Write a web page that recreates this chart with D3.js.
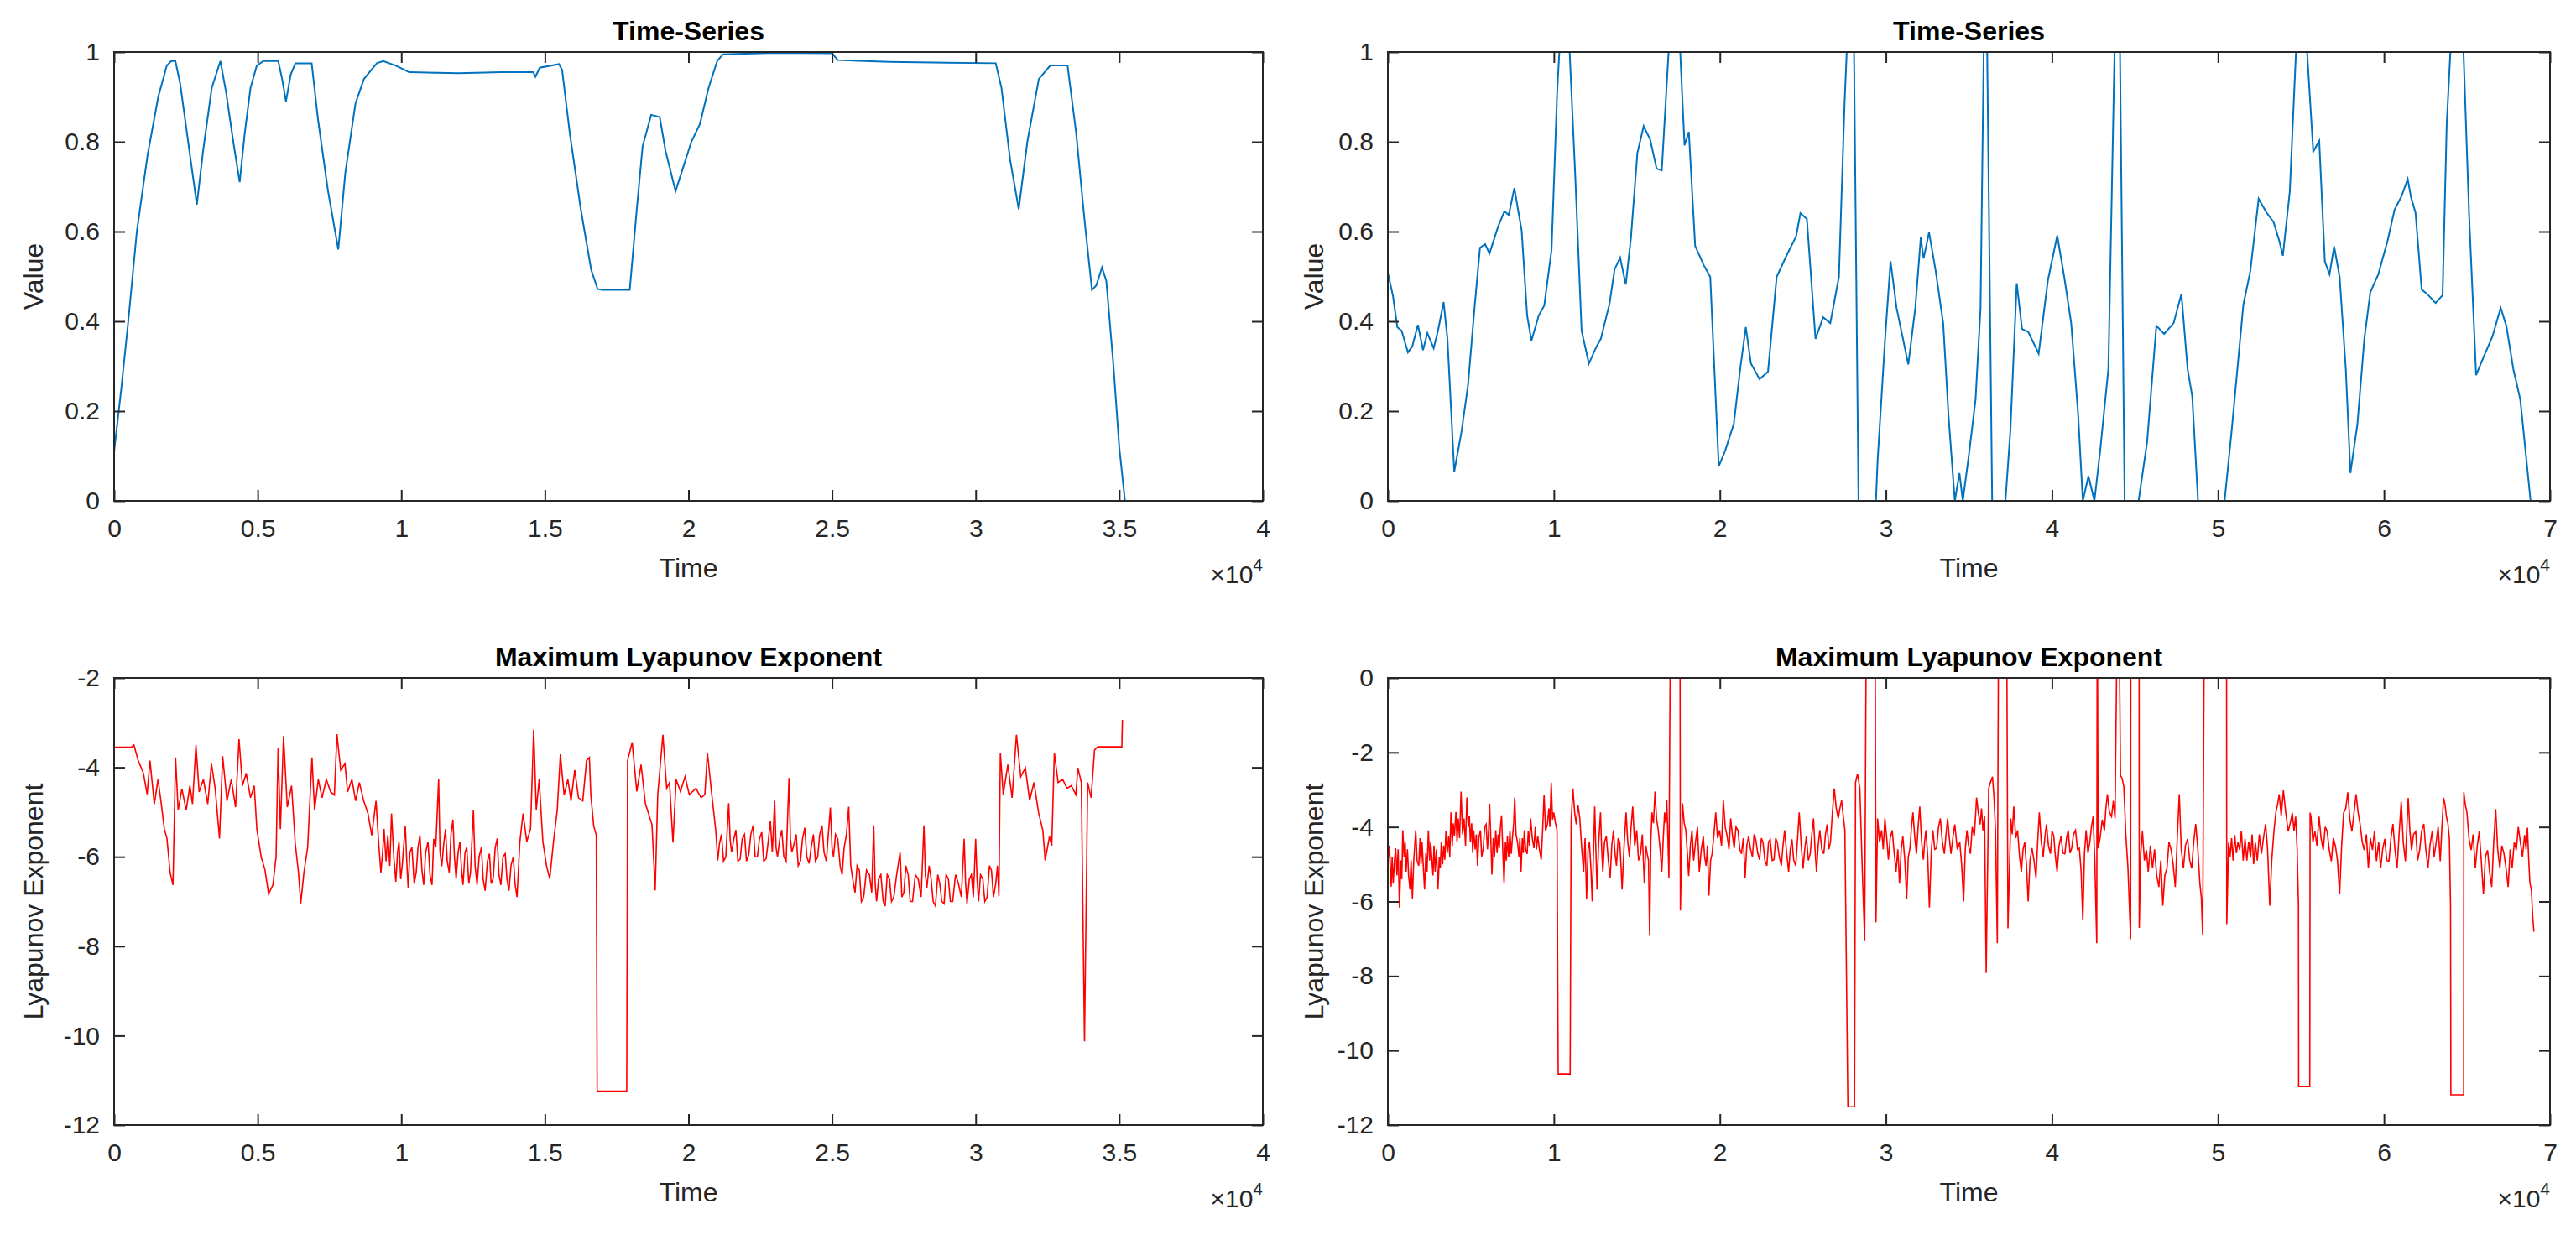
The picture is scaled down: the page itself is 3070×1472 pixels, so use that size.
<!DOCTYPE html>
<html lang="en">
<head>
    <meta charset="UTF-8">
    <title>Time-Series and Maximum Lyapunov Exponent</title>
    <style>
        body { margin: 0; background: #fff; }
        svg text { font-family: "Liberation Sans", Arial, Helvetica, sans-serif; fill: #262626; }
    </style>
</head>
<body>
    <div id="chart"></div>
    <script src="https://d3js.org/d3.v7.min.js"></script>
    <script>
        // ---- data: [time, value] ----
        const seriesA = [[0,0.11],[250,0.25],[493,0.40],[791,0.60],[1164,0.77],[1537,0.90],[1836,0.97],[1990,0.98],[2134,0.98],[2300,0.93],[2600,0.79],[2881,0.66],[3100,0.78],[3400,0.92],[3701,0.98],[3900,0.91],[4150,0.80],[4373,0.71],[4550,0.82],[4750,0.92],[4970,0.97],[5200,0.98],[5716,0.98],[5850,0.94],[5985,0.89],[6150,0.95],[6313,0.975],[6880,0.975],[7100,0.85],[7450,0.69],[7806,0.56],[8050,0.73],[8403,0.885],[8701,0.94],[9149,0.975],[9373,0.98],[9800,0.97],[10119,0.96],[10269,0.955],[12000,0.953],[13500,0.955],[14597,0.955],[14672,0.945],[14821,0.965],[15493,0.973],[15600,0.96],[15866,0.82],[16250,0.65],[16612,0.515],[16836,0.472],[17000,0.47],[17955,0.47],[18200,0.65],[18403,0.79],[18701,0.86],[19000,0.855],[19200,0.78],[19550,0.69],[19800,0.74],[20100,0.80],[20400,0.84],[20700,0.92],[21000,0.98],[21200,0.995],[23000,0.998],[25000,0.997],[25200,0.982],[27000,0.978],[29000,0.976],[30700,0.975],[30900,0.92],[31200,0.76],[31500,0.65],[31800,0.80],[32200,0.94],[32600,0.97],[33200,0.97],[33500,0.82],[33800,0.62],[34050,0.47],[34200,0.48],[34400,0.52],[34550,0.49],[34800,0.30],[35000,0.12],[35200,0.0]];

        const seriesB = [[0,0.508],[310,0.456],[570,0.387],[830,0.379],[1210,0.331],[1470,0.344],[1810,0.392],[2120,0.336],[2380,0.374],[2760,0.34],[3020,0.379],[3360,0.443],[3590,0.361],[4000,0.065],[4440,0.155],[4830,0.258],[5220,0.43],[5550,0.564],[5860,0.572],[6120,0.551],[6640,0.611],[7020,0.645],[7280,0.637],[7620,0.697],[8060,0.602],[8390,0.413],[8650,0.357],[9090,0.413],[9420,0.435],[9860,0.559],[10200,0.912],[10330,1.0],[10950,1.0],[11280,0.731],[11670,0.379],[12110,0.306],[12570,0.344],[12830,0.361],[13350,0.439],[13660,0.516],[13990,0.542],[14330,0.482],[14640,0.585],[15030,0.775],[15410,0.835],[15800,0.805],[16190,0.74],[16500,0.736],[16910,1.0],[17610,1.0],[17870,0.792],[18130,0.822],[18510,0.568],[19030,0.525],[19420,0.499],[19930,0.077],[20320,0.112],[20840,0.172],[21220,0.293],[21560,0.387],[21870,0.306],[22390,0.271],[22900,0.288],[23420,0.499],[24070,0.551],[24590,0.589],[24850,0.641],[25240,0.628],[25760,0.361],[26220,0.409],[26650,0.396],[27170,0.499],[27510,0.886],[27640,1.0],[28080,1.0],[28350,0.0],[29400,0.0],[29500,0.09],[29950,0.36],[30280,0.534],[30640,0.43],[31350,0.304],[31770,0.43],[32100,0.587],[32270,0.54],[32600,0.598],[33000,0.512],[33450,0.396],[33780,0.185],[34150,0.0],[34430,0.062],[34630,0.0],[35000,0.103],[35400,0.226],[35700,0.43],[35890,1.0],[36100,1.0],[36400,0.0],[37200,0.0],[37500,0.158],[37880,0.485],[38200,0.383],[38580,0.376],[39200,0.328],[39760,0.492],[40320,0.591],[40740,0.499],[41160,0.396],[41580,0.192],[41860,0.0],[42200,0.055],[42560,0.0],[42900,0.11],[43400,0.294],[43770,1.0],[44100,1.0],[44380,0.0],[45220,0.0],[45730,0.13],[46290,0.39],[46760,0.372],[47330,0.396],[47800,0.461],[48170,0.294],[48450,0.233],[48800,0.0],[50400,0.0],[50830,0.158],[51530,0.437],[51950,0.512],[52450,0.673],[52930,0.642],[53350,0.621],[53690,0.58],[53910,0.546],[54330,0.69],[54700,1.0],[55370,1.0],[55740,0.778],[56100,0.802],[56440,0.533],[56720,0.505],[57000,0.567],[57330,0.499],[57700,0.294],[57980,0.062],[58400,0.171],[58820,0.362],[59180,0.465],[59660,0.505],[60220,0.58],[60640,0.649],[61060,0.679],[61430,0.717],[61630,0.676],[61900,0.642],[62270,0.471],[62600,0.461],[63110,0.441],[63530,0.458],[63780,0.84],[64000,1.0],[64790,1.0],[65130,0.635],[65550,0.28],[65970,0.318],[66530,0.366],[67030,0.43],[67370,0.39],[67790,0.294],[68210,0.226],[68830,0.0]];

        const lyapA = [[0,-2.95],[5,-3.55],[600,-3.55],[690,-3.5],[840,-3.85],[1020,-4.13],[1150,-4.6],[1250,-3.85],[1400,-4.82],[1530,-4.27],[1630,-4.75],[1750,-5.38],[1840,-5.59],[1950,-6.35],[2050,-6.63],[2140,-3.78],[2230,-4.96],[2360,-4.48],[2510,-4.96],[2640,-4.41],[2730,-4.82],[2850,-3.5],[2960,-4.55],[3110,-4.27],[3260,-4.82],[3390,-3.92],[3520,-4.48],[3670,-5.59],[3780,-3.75],[3930,-4.75],[4080,-4.27],[4230,-4.89],[4350,-3.37],[4470,-4.41],[4600,-4.13],[4750,-4.68],[4880,-4.41],[4970,-5.38],[5120,-6.0],[5250,-6.28],[5380,-6.83],[5530,-6.63],[5640,-6.0],[5710,-3.57],[5790,-5.38],[5900,-3.3],[6030,-4.89],[6180,-4.41],[6310,-5.72],[6420,-6.35],[6500,-7.04],[6610,-6.35],[6740,-5.79],[6890,-3.78],[6980,-4.96],[7110,-4.27],[7240,-4.68],[7390,-4.27],[7540,-4.55],[7670,-4.62],[7760,-3.26],[7890,-4.06],[8040,-3.92],[8130,-4.55],[8280,-4.27],[8410,-4.75],[8540,-4.34],[8690,-4.75],[8840,-5.03],[8970,-5.52],[9120,-4.75],
            [9210,-5.66],[9290,-6.35],[9350,-5.9],[9400,-5.38],[9470,-6.1],[9530,-5.52],[9600,-6.2],[9660,-5.03],[9740,-6.0],[9810,-6.56],[9870,-5.9],[9920,-5.66],[9980,-6.5],[10030,-6.21],[10090,-5.7],[10140,-5.31],[10190,-6.1],[10240,-6.70],[10300,-5.9],[10370,-5.79],[10450,-6.6],[10520,-6.35],[10580,-5.8],[10650,-5.52],[10720,-6.3],[10780,-6.63],[10850,-5.9],[10930,-5.66],[11000,-6.4],[11070,-6.63],[11130,-5.6],[11200,-5.79],[11300,-4.27],[11350,-5.9],[11410,-6.21],[11480,-5.7],[11540,-5.38],[11600,-6.1],[11670,-6.35],[11730,-5.5],[11800,-5.17],[11850,-6.0],[11910,-6.49],[11980,-5.9],[12040,-5.66],[12100,-6.3],[12150,-6.63],[12220,-5.9],[12280,-5.79],[12350,-6.6],[12410,-6.35],[12510,-4.96],[12570,-6.2],[12640,-6.63],[12710,-6.0],[12790,-5.79],[12850,-6.5],[12920,-6.76],[13000,-6.1],[13070,-5.93],[13130,-6.6],[13200,-6.49],[13270,-5.8],[13340,-5.59],[13400,-6.4],[13470,-6.63],[13540,-6.0],[13620,-5.93],[13680,-6.5],[13750,-6.76],[13820,-6.2],[13900,-6.0],[13960,-6.6],[14030,-6.90],[14130,-5.66],
            [14240,-5.03],[14370,-5.66],[14500,-5.38],[14610,-3.16],[14700,-4.96],[14800,-4.27],[14930,-5.66],[15060,-6.21],[15170,-6.49],[15300,-5.66],[15430,-4.96],[15540,-3.71],[15670,-4.62],[15800,-4.27],[15910,-4.75],[16040,-4.06],[16170,-4.68],[16320,-4.75],[16450,-3.85],[16550,-3.78],[16600,-4.62],[16700,-5.31],[16790,-5.52],[16820,-11.24],[17850,-11.24],[17880,-3.85],[18040,-3.44],[18200,-4.54],[18350,-3.94],[18500,-4.81],[18730,-5.28],[18840,-6.75],[18930,-4.61],[19110,-3.27],[19240,-4.47],[19340,-4.34],[19460,-5.68],[19570,-4.27],[19720,-4.54],[19880,-4.21],[20030,-4.61],[20260,-4.47],[20440,-4.68],[20570,-4.61],[20660,-3.67],[20800,-4.54],[20950,-5.41],
            [21020,-6.08],[21080,-5.7],[21150,-5.5],[21220,-6.1],[21300,-6.0],[21400,-4.8],[21450,-5.6],[21500,-5.9],[21580,-5.6],[21650,-5.4],[21720,-6.1],[21800,-6.05],[21870,-5.6],[21950,-5.5],[22020,-6.1],[22100,-5.95],[22170,-5.5],[22250,-5.3],[22320,-6.0],[22400,-6.0],[22470,-5.6],[22550,-5.45],[22620,-6.1],[22700,-6.05],[22770,-5.7],[22850,-5.2],[22920,-5.9],[23000,-4.75],[23050,-5.8],[23100,-6.0],[23180,-5.6],[23250,-5.4],[23320,-6.0],[23400,-6.1],[23500,-4.24],[23550,-5.6],[23600,-5.9],[23680,-5.7],[23750,-5.5],[23820,-6.2],[23900,-6.1],[23970,-5.6],[24050,-5.35],[24120,-6.0],[24200,-6.15],[24270,-5.8],[24350,-5.5],[24420,-6.1],[24500,-6.0],[24570,-5.5],[24650,-5.3],[24720,-5.9],[24800,-6.1],[24940,-4.9],[25000,-5.8],[25050,-6.0],[25120,-5.5],[25200,-5.6],[25280,-6.2],[25350,-6.4],[25420,-5.8],[25500,-5.5],[25580,-4.88],[25650,-6.2],[25720,-6.5],[25800,-6.8],[25870,-6.2],[25950,-6.3],[26020,-7.0],[26100,-6.9],[26200,-6.3],[26300,-6.4],[26380,-6.8],[26450,-5.3],[26500,-6.6],[26550,-7.0],[26620,-6.5],[26700,-6.4],[26780,-7.0],[26850,-7.1],[26920,-6.4],[27000,-6.5],[27070,-7.0],[27150,-6.9],[27250,-6.4],[27370,-5.9],[27430,-6.9],[27500,-6.8],[27570,-6.2],[27650,-6.4],[27720,-7.0],[27800,-7.0],[27900,-6.4],[28000,-6.5],[28100,-6.9],[28200,-5.3],[28250,-6.4],[28300,-6.7],[28380,-6.2],[28450,-6.5],[28520,-7.0],[28600,-7.1],[28680,-6.4],[28750,-6.6],[28820,-7.0],[28900,-7.05],[28970,-6.4],[29050,-6.5],[29120,-7.0],[29200,-7.0],[29300,-6.4],[29400,-6.6],[29500,-6.9],[29600,-5.6],[29650,-6.6],[29700,-7.05],[29780,-6.5],[29850,-6.4],[29920,-6.9],[30000,-5.6],[30050,-6.5],[30100,-7.0],[30170,-6.4],[30250,-6.5],[30320,-7.0],[30400,-6.9],[30480,-6.2],[30550,-6.3],[30620,-6.9],[30700,-6.6],[30760,-6.2],[30810,-6.88],
            [30860,-3.67],[30960,-4.61],[31120,-3.94],[31270,-4.68],[31420,-3.27],[31570,-4.21],[31730,-4.01],[31880,-4.74],[32030,-4.34],[32190,-5.01],[32340,-5.41],[32420,-6.08],[32570,-5.55],[32650,-5.75],[32740,-3.67],[32870,-4.34],[33030,-4.27],[33180,-4.47],[33330,-4.41],[33490,-4.61],[33560,-4.01],[33680,-4.34],[33790,-10.13],[33900,-4.34],[34020,-4.68],[34140,-3.61],[34250,-3.54],[35090,-3.54],[35110,-2.94]];

        const lyapB = [[0,-5.2],[60,-4.5],[120,-4.72],[200,-5.6],[260,-4.8],[320,-5.52],[400,-4.9],[470,-4.57],[550,-5.3],[620,-4.6],[700,-6.16],[780,-4.9],[840,-5.4],[900,-4.09],[980,-4.8],[1040,-4.4],[1100,-5.2],[1180,-4.6],[1250,-5.3],[1330,-5.68],[1400,-4.9],[1480,-5.92],[1560,-4.9],[1620,-4.5],[1680,-4.09],[1760,-4.9],[1860,-5.04],[1940,-4.3],[2000,-5.0],[2060,-4.41],[2140,-5.1],[2210,-5.68],[2290,-4.7],[2360,-5.2],[2440,-4.09],[2520,-4.9],[2580,-4.4],[2640,-4.80],[2720,-5.3],[2780,-4.5],[2850,-5.2],[2930,-4.6],[3020,-5.68],[3100,-4.8],[3160,-5.1],[3220,-4.41],[3300,-5.0],[3360,-4.5],[3430,-4.88],[3500,-4.1],[3580,-4.7],[3660,-4.25],[3730,-4.8],[3800,-3.61],[3880,-4.5],[3940,-3.9],[4010,-4.25],[4100,-3.6],[4170,-4.4],[4240,-3.77],[4320,-4.3],[4410,-3.05],[4500,-4.2],[4590,-3.77],[4680,-4.5],[4760,-3.21],[4850,-4.0],[4910,-3.7],[4970,-4.41],[5050,-3.9],[5110,-4.7],[5170,-4.09],[5260,-4.6],[5330,-4.2],[5400,-5.04],[5480,-4.3],[5580,-4.09],[5650,-4.8],[5750,-4.57],[5830,-4.0],[5920,-3.93],[6000,-4.6],[6070,-4.1],[6130,-3.37],[6200,-4.3],[6270,-5.28],[6350,-4.3],[6420,-4.8],[6500,-4.09],[6580,-4.7],[6640,-4.2],[6710,-4.57],[6780,-4.0],[6850,-3.69],[6920,-4.6],[7000,-5.52],[7080,-4.4],[7140,-4.9],[7200,-4.25],[7280,-4.8],[7350,-4.1],[7430,-4.72],[7520,-4.2],[7580,-3.9],[7640,-3.21],[7720,-4.2],[7810,-4.41],[7900,-4.8],[7950,-4.3],[8020,-5.2],[8100,-4.3],[8160,-4.7],[8220,-4.09],[8300,-4.6],[8390,-4.72],[8460,-4.1],[8530,-4.5],[8600,-3.77],[8700,-4.3],[8800,-4.57],[8880,-4.0],[8950,-4.6],[9030,-4.25],[9130,-4.6],[9240,-4.88],[9330,-4.0],[9410,-3.13],[9500,-4.1],[9610,-3.93],[9700,-3.5],[9760,-4.0],[9840,-2.81],[9920,-3.8],[9990,-3.61],[10100,-3.9],[10190,-4.09],
            [10260,-10.63],[10980,-10.63],
            [11040,-3.85],[11150,-2.97],[11250,-3.6],[11350,-3.93],[11450,-3.4],[11560,-3.77],[11680,-4.6],[11790,-5.2],[11880,-4.3],[11970,-5.92],[12060,-4.6],[12140,-4.41],[12230,-5.1],[12310,-6.0],[12390,-4.6],[12460,-3.45],[12530,-4.6],[12600,-5.68],[12700,-4.4],[12810,-3.61],[12880,-4.6],[12950,-5.2],[13050,-4.4],[13160,-4.25],[13280,-4.9],[13390,-5.36],[13490,-4.5],[13590,-4.09],[13680,-4.7],[13770,-5.04],[13870,-4.3],[13970,-4.41],[14040,-5.0],[14110,-5.68],[14230,-4.5],[14350,-3.61],[14450,-4.4],[14550,-4.80],[14650,-4.0],[14750,-3.45],[14870,-4.5],[14990,-4.09],[15100,-4.9],[15220,-4.72],[15330,-4.2],[15450,-5.52],[15540,-4.5],[15620,-4.72],[15700,-4.9],[15770,-6.92],[15840,-4.4],[15910,-3.61],[16000,-3.9],[16090,-3.05],[16190,-3.8],[16290,-4.09],[16400,-4.6],[16500,-5.2],[16590,-4.3],[16670,-3.61],[16740,-3.9],[16800,-3.29],[16870,-4.3],[16930,-5.36],[17000,0],[17600,0],[17620,-6.24],
            [17750,-3.37],[17850,-3.9],[17950,-4.09],[18040,-4.7],[18120,-5.32],[18220,-4.5],[18320,-4.09],[18420,-4.9],[18530,-4.41],[18650,-4.0],[18760,-5.2],[18880,-4.6],[19000,-4.25],[19080,-4.8],[19170,-5.04],[19250,-4.5],[19340,-5.84],[19440,-4.9],[19530,-4.72],[19640,-4.2],[19750,-3.61],[19860,-4.3],[19980,-4.09],[20100,-4.5],[20210,-3.29],[20320,-4.0],[20440,-4.25],[20550,-4.6],[20650,-3.77],[20750,-4.2],[20860,-4.57],[20970,-4.0],[21090,-4.09],[21200,-4.6],[21300,-4.72],[21410,-4.3],[21520,-5.36],[21620,-4.5],[21730,-4.25],[21850,-4.6],[21960,-4.80],[22060,-4.2],[22160,-4.33],[22280,-4.7],[22390,-4.88],[22500,-4.3],[22600,-4.41],[22710,-4.9],[22830,-5.04],[22930,-4.4],[23030,-4.33],[23150,-4.9],[23260,-4.88],[23360,-4.3],[23460,-4.41],[23580,-4.8],[23700,-5.04],[23800,-4.5],[23900,-4.09],[24020,-4.7],[24140,-5.2],[24240,-4.6],[24340,-4.33],[24450,-4.9],[24570,-5.04],[24680,-4.3],[24780,-3.61],[24900,-4.5],[25010,-5.12],[25110,-4.6],[25210,-4.25],[25330,-4.9],[25440,-4.72],[25540,-4.2],[25640,-3.77],[25730,-4.6],[25820,-5.2],[25920,-4.5],[26020,-4.09],[26140,-4.6],[26260,-4.72],[26360,-4.2],[26460,-3.93],[26560,-4.6],[26660,-4.41],[26780,-3.6],[26890,-2.97],[27010,-3.5],[27130,-3.77],[27230,-3.5],[27330,-3.29],[27430,-3.7],[27530,-4.09],
            [27710,-11.51],[28110,-11.51],
            [28170,-2.81],[28290,-2.57],[28430,-2.97],[28580,-5.2],[28720,-7.04],[28800,0],[29360,0],[29400,-6.56],
            [29500,-3.77],[29620,-4.4],[29740,-4.09],[29840,-4.6],[29940,-3.77],[30050,-4.3],[30150,-4.88],[30260,-4.3],[30380,-4.09],[30500,-4.7],[30610,-5.2],[30720,-4.6],[30820,-5.52],[30920,-4.6],[31020,-4.25],[31140,-4.9],[31250,-5.92],[31350,-4.8],[31450,-4.57],[31540,-4.0],[31630,-3.61],[31740,-4.3],[31840,-4.72],[31940,-4.0],[32040,-3.45],[32150,-4.4],[32260,-4.88],[32330,-4.4],[32410,-4.09],[32520,-4.8],[32620,-6.16],[32730,-4.7],[32830,-4.09],[32940,-4.6],[33050,-4.57],[33170,-4.0],[33280,-3.77],[33400,-4.4],[33520,-4.72],[33620,-4.2],[33720,-3.77],[33820,-4.3],[33920,-4.72],[34030,-4.3],[34150,-3.93],[34300,-4.6],[34450,-4.41],[34560,-5.0],[34680,-6.0],[34780,-4.6],[34880,-4.09],[34980,-4.5],[35090,-4.72],[35200,-4.0],[35320,-4.25],[35400,-3.7],[35460,-3.21],[35560,-3.6],[35670,-3.93],[35760,-3.5],[35840,-4.09],[35940,-3.7],[36040,-7.92],[36190,-2.97],[36300,-2.8],[36420,-2.65],[36510,-3.2],[36600,-4.09],[36710,-7.12],[36770,0],[37290,0],[37350,-6.72],
            [37520,-3.77],[37610,-4.2],[37700,-3.45],[37820,-4.3],[37930,-4.09],[38050,-4.8],[38160,-5.2],[38260,-4.6],[38360,-4.41],[38460,-5.0],[38570,-6.0],[38680,-4.9],[38800,-4.57],[38920,-4.9],[39040,-5.36],[39140,-4.4],[39240,-3.61],[39360,-4.4],[39470,-4.80],[39570,-4.3],[39670,-3.93],[39790,-4.5],[39910,-4.72],[40010,-4.1],[40110,-4.25],[40210,-4.8],[40310,-5.2],[40430,-4.5],[40550,-4.25],[40660,-4.7],[40780,-4.72],[40880,-4.3],[40980,-4.09],[41090,-4.7],[41190,-4.57],[41300,-4.2],[41420,-4.09],[41540,-4.6],[41650,-4.57],[41760,-5.2],[41860,-6.51],[41960,-4.7],[42060,-4.09],[42170,-4.7],[42280,-4.41],[42380,-4.0],[42480,-3.72],[42580,-4.88],[42700,-7.12],[42720,0],[42750,0],[42780,-4.57],
            [42900,-4.3],[43030,-3.8],[43160,-4.09],[43250,-3.5],[43340,-3.12],[43460,-3.6],[43590,-3.72],[43700,-3.3],[43800,-3.77],[43890,0],[44080,0],[44130,-2.62],[44230,-2.7],[44330,-2.92],[44450,-4.2],[44580,-5.11],[44740,-7.01],[44750,0],[45250,0],[45260,-6.71],[45350,-4.7],[45450,-4.12],[45570,-4.9],[45690,-4.62],[45800,-5.2],[45930,-4.5],[46060,-5.11],[46180,-4.6],[46310,-5.3],[46440,-5.61],[46560,-4.9],[46680,-6.11],[46800,-5.3],[46930,-5.11],[47050,-4.4],[47180,-4.62],[47300,-5.0],[47430,-5.61],[47550,-4.3],[47670,-3.12],[47790,-4.6],[47920,-5.11],[48040,-4.5],[48170,-4.32],[48300,-4.9],[48420,-5.11],[48540,-4.4],[48660,-3.92],[48790,-4.6],[48910,-5.51],[49000,-5.9],[49080,-6.91],[49160,0],[50520,0],[50530,-6.61],
            [50640,-4.42],[50730,-4.8],[50820,-4.3],[50910,-4.9],[51010,-4.22],[51110,-4.7],[51210,-4.4],[51310,-4.62],[51410,-4.1],[51520,-4.9],[51630,-4.32],[51740,-4.9],[51850,-4.4],[51960,-4.82],[52060,-4.2],[52150,-5.0],[52250,-4.42],[52370,-4.9],[52490,-4.2],[52620,-4.72],[52740,-4.3],[52870,-3.92],[52990,-4.6],[53120,-6.11],[53240,-4.9],[53370,-4.12],[53490,-3.6],[53590,-3.4],[53690,-3.12],[53810,-3.7],[53940,-3.02],[54080,-3.6],[54230,-4.12],[54350,-3.9],[54480,-3.62],[54580,-4.1],[54680,-3.72],[54770,-4.6],[54850,-6.11],[54860,-10.97],[55530,-10.97],[55550,-3.62],
            [55600,-3.72],[55720,-4.4],[55840,-4.12],[55960,-4.5],[56090,-3.72],[56210,-4.3],[56340,-4.62],[56460,-4.0],[56580,-4.12],[56700,-4.6],[56830,-4.92],[56950,-4.3],[57080,-4.52],[57200,-4.9],[57330,-5.81],[57450,-4.5],[57570,-3.62],[57700,-3.5],[57820,-3.07],[57950,-3.8],[58070,-4.12],[58200,-3.6],[58320,-3.12],[58440,-3.6],[58560,-3.92],[58690,-4.4],[58810,-4.62],[58940,-4.2],[59060,-5.11],[59180,-4.3],[59310,-4.62],[59430,-4.1],[59550,-4.92],[59680,-4.4],[59800,-5.11],[59920,-4.6],[60050,-4.32],[60170,-4.9],[60300,-4.92],[60420,-4.3],[60540,-3.92],[60660,-4.6],[60790,-5.11],[60910,-4.2],[61040,-3.32],[61160,-4.4],[61290,-4.92],[61380,-4.0],[61460,-3.22],[61560,-4.1],[61660,-4.62],[61780,-4.2],[61910,-4.12],[62030,-4.9],[62150,-4.62],[62270,-4.1],[62400,-3.92],[62520,-4.6],[62650,-5.11],[62770,-4.5],[62900,-4.12],[63020,-4.8],[63140,-4.42],[63260,-4.0],[63390,-4.92],[63490,-4.0],[63590,-3.22],[63680,-3.4],[63760,-3.72],[63850,-3.9],[63940,-4.32],[64010,-6.11],[64030,-11.19],[64800,-11.19],[64810,-3.07],
            [64900,-3.4],[65000,-3.62],[65120,-4.3],[65250,-4.62],[65370,-4.2],[65500,-5.11],[65620,-4.5],[65740,-4.12],[65860,-4.9],[65990,-5.81],[66110,-4.8],[66240,-4.62],[66360,-5.2],[66490,-5.61],[66610,-4.4],[66730,-3.52],[66850,-4.6],[66980,-5.11],[67100,-4.5],[67230,-4.72],[67350,-5.1],[67480,-5.61],[67600,-4.6],[67720,-5.11],[67850,-4.4],[67970,-4.62],[68090,-4.0],[68220,-4.42],[68340,-4.8],[68470,-4.22],[68560,-4.6],[68640,-4.02],[68720,-4.9],[68790,-5.51],[68880,-5.7],[68960,-6.41],[69030,-6.81]];

        // tick values
        const xTicksLeft = [0, 5000, 10000, 15000, 20000, 25000, 30000, 35000, 40000];
        const xTicksRight = [0, 10000, 20000, 30000, 40000, 50000, 60000, 70000];
        const yTicksTS = [0, 0.2, 0.4, 0.6, 0.8, 1];
        const yTicksLyapLeft = [-12, -10, -8, -6, -4, -2];
        const yTicksLyapRight = [-12, -10, -8, -6, -4, -2, 0];

        const W = 3070, H = 1472;
        const ink = "#262626";
        const tickFont = 30;

        const svg = d3.select("#chart").append("svg")
            .attr("width", W)
            .attr("height", H);

        const panels = [
            { data: seriesA, left: 136, right: 1505, top: 62, bottom: 597,
              xMax: 40000, xTicks: xTicksLeft, yDom: [0, 1], yTicks: yTicksTS,
              title: "Time-Series", ylab: "Value", ylabX: 40, color: "#0072BD", width: 2 },
            { data: seriesB, left: 1654, right: 3039, top: 62, bottom: 597,
              xMax: 70000, xTicks: xTicksRight, yDom: [0, 1], yTicks: yTicksTS,
              title: "Time-Series", ylab: "Value", ylabX: 1566, color: "#0072BD", width: 2 },
            { data: lyapA, left: 136, right: 1505, top: 808, bottom: 1341,
              xMax: 40000, xTicks: xTicksLeft, yDom: [-12, -2], yTicks: yTicksLyapLeft,
              title: "Maximum Lyapunov Exponent", ylab: "Lyapunov Exponent", ylabX: 40, color: "#FF0000", width: 1.6 },
            { data: lyapB, left: 1654, right: 3039, top: 808, bottom: 1341,
              xMax: 70000, xTicks: xTicksRight, yDom: [-12, 0], yTicks: yTicksLyapRight,
              title: "Maximum Lyapunov Exponent", ylab: "Lyapunov Exponent", ylabX: 1566, color: "#FF0000", width: 1.6 }
        ];

        // MATLAB style labels: plain hyphen for negatives
        const yfmt = d => String(d).replace("\u2212", "-");
        const xfmt = d => String(+(d / 10000).toFixed(1));

        panels.forEach((p, i) => {
            const x = d3.scaleLinear().domain([0, p.xMax]).range([p.left, p.right]);
            const y = d3.scaleLinear().domain(p.yDom).range([p.bottom, p.top]);
            const g = svg.append("g");

            svg.append("clipPath").attr("id", "clip" + i)
                .append("rect")
                .attr("x", p.left).attr("y", p.top - 2)
                .attr("width", p.right - p.left).attr("height", p.bottom - p.top + 4);

            const line = d3.line()
                .x(d => x(d[0]))
                .y(d => y(d[1]));

            g.append("path")
                .datum(p.data)
                .attr("clip-path", `url(#clip${i})`)
                .attr("fill", "none")
                .attr("stroke", p.color)
                .attr("stroke-width", p.width)
                .attr("d", line);

            // bottom axis, ticks pointing in
            const xb = g.append("g")
                .attr("transform", `translate(0,${p.bottom})`)
                .call(d3.axisBottom(x).tickValues(p.xTicks).tickFormat(xfmt)
                    .tickSizeInner(-13).tickSizeOuter(0).tickPadding(22));
            xb.select(".domain").remove();
            xb.selectAll("text").attr("font-size", tickFont).attr("fill", ink);

            // mirrored top ticks
            const xt = g.append("g")
                .attr("transform", `translate(0,${p.top})`)
                .call(d3.axisTop(x).tickValues(p.xTicks).tickFormat("")
                    .tickSizeInner(-13).tickSizeOuter(0));
            xt.select(".domain").remove();

            // left axis
            const yl = g.append("g")
                .attr("transform", `translate(${p.left},0)`)
                .call(d3.axisLeft(y).tickValues(p.yTicks).tickFormat(yfmt)
                    .tickSizeInner(-13).tickSizeOuter(0).tickPadding(17));
            yl.select(".domain").remove();
            yl.selectAll("text").attr("font-size", tickFont).attr("fill", ink);

            // mirrored right ticks
            const yr = g.append("g")
                .attr("transform", `translate(${p.right},0)`)
                .call(d3.axisRight(y).tickValues(p.yTicks).tickFormat("")
                    .tickSizeInner(-13).tickSizeOuter(0));
            yr.select(".domain").remove();

            g.selectAll(".tick line").attr("stroke", ink).attr("stroke-width", 2);

            // frame
            g.append("rect")
                .attr("x", p.left).attr("y", p.top)
                .attr("width", p.right - p.left).attr("height", p.bottom - p.top)
                .attr("fill", "none")
                .attr("stroke", ink)
                .attr("stroke-width", 2);

            // title
            g.append("text")
                .attr("x", (p.left + p.right) / 2)
                .attr("y", p.top - 14)
                .attr("text-anchor", "middle")
                .attr("font-size", 32)
                .attr("font-weight", "bold")
                .style("fill", "#000")
                .text(p.title);

            // x label
            g.append("text")
                .attr("x", (p.left + p.right) / 2)
                .attr("y", p.bottom + 91)
                .attr("text-anchor", "middle")
                .attr("font-size", 32)
                .text("Time");

            // exponent marker
            const ex = g.append("text")
                .attr("x", p.right)
                .attr("y", p.bottom + 98)
                .attr("text-anchor", "end")
                .attr("font-size", tickFont);
            ex.append("tspan").text("\u00d710");
            ex.append("tspan").attr("dy", -15).attr("font-size", 21).text("4");

            // y label
            g.append("text")
                .attr("transform", `translate(${p.ylabX},${(p.top + p.bottom) / 2}) rotate(-90)`)
                .attr("text-anchor", "middle")
                .attr("dominant-baseline", "central")
                .attr("font-size", 32)
                .text(p.ylab);
        });
    </script>
</body>
</html>
